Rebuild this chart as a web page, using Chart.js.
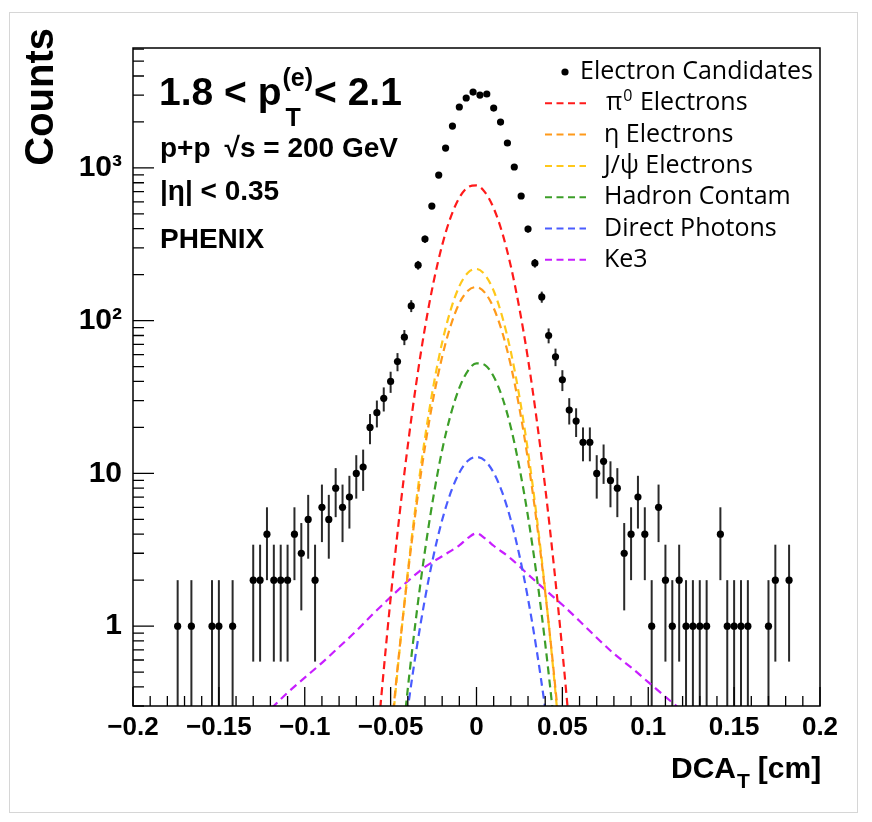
<!DOCTYPE html>
<html>
<head>
<meta charset="utf-8">
<script src="https://cdn.jsdelivr.net/npm/chart.js@4.4.0/dist/chart.umd.min.js"></script>
<style>
  body { margin: 0; background: #fff; }
  #wrap { width: 872px; height: 822px; }
</style>
</head>
<body>
<div id="wrap"><canvas id="dcaChart" width="872" height="822"></canvas></div>
<script>
// electron candidates: bin centres (cm) and counts
const dcaBins = [-0.174, -0.166, -0.154, -0.150, -0.142, -0.130, -0.126, -0.122, -0.118, -0.114,
  -0.110, -0.106, -0.102, -0.098, -0.094, -0.090, -0.086, -0.082, -0.078, -0.074,
  -0.070, -0.066, -0.062, -0.058, -0.054, -0.050, -0.046, -0.042, -0.038, -0.034,
  -0.030, -0.026, -0.022, -0.018, -0.014, -0.010, -0.006, -0.002, 0.002, 0.006,
  0.010, 0.014, 0.018, 0.022, 0.026, 0.030, 0.034, 0.038, 0.042, 0.046,
  0.050, 0.054, 0.058, 0.062, 0.066, 0.070, 0.074, 0.078, 0.082, 0.086,
  0.090, 0.094, 0.098, 0.102, 0.106, 0.110, 0.114, 0.118, 0.122, 0.126,
  0.130, 0.134, 0.142, 0.146, 0.150, 0.154, 0.158, 0.170, 0.174, 0.182];
const counts = [1, 1, 1, 1, 1, 2, 2, 4, 2, 2,
  2, 4, 3, 5, 2, 6, 5, 8, 6, 7,
  10, 11, 20, 25, 31, 40, 54, 78, 125, 231,
  342, 563, 898, 1350, 1880, 2506, 2870, 3140, 3000, 3050,
  2467, 1997, 1456, 1014, 655, 398, 238, 143, 80, 58,
  41, 26, 22, 16, 16, 10, 12, 9, 8, 3,
  4, 7, 4, 1, 6, 2, 1, 2, 1, 1,
  1, 1, 4, 1, 1, 1, 1, 1, 2, 2];

// background components
const curveX = [-0.060, -0.055, -0.050, -0.045, -0.040, -0.035, -0.030, -0.025, -0.020, -0.015, -0.010, -0.005,
  0, 0.005, 0.010, 0.015, 0.020, 0.025, 0.030, 0.035, 0.040, 0.045, 0.050, 0.055, 0.060];
const pi0Curve = [0.09, 0.39, 1.52, 5.15, 15.2, 39.5, 90, 179, 312, 477, 638, 748,
  768, 691, 545, 376, 227, 120, 56, 22.7, 8.1, 2.52, 0.69, 0.165, 0.035];
const etaCurve = [0.01, 0.043, 0.183, 0.68, 2.18, 6.1, 14.9, 31.6, 58, 93, 130, 157,
  166, 152, 121, 84, 50.8, 26.7, 12.2, 4.83, 1.67, 0.5, 0.131, 0.03, 0.006];
const jpsiCurve = [0.007, 0.036, 0.167, 0.66, 2.27, 6.7, 17.1, 37.8, 72, 118, 168, 206,
  218, 199, 157, 106, 62.5, 31.7, 13.9, 5.25, 1.71, 0.48, 0.117, 0.025, 0.004];
const hadronCurve = [0.001, 0.006, 0.027, 0.11, 0.39, 1.18, 3.12, 7.13, 14.2, 24.3, 36.3, 47,
  52.6, 51.1, 43.1, 31.5, 20, 10.9, 5.21, 2.15, 0.77, 0.239, 0.064, 0.015, 0.003];
const photonCurve = [0.0025, 0.0098, 0.034, 0.105, 0.288, 0.7, 1.51, 2.9, 4.95, 7.5, 10.1, 12.1,
  12.8, 12.1, 10.1, 7.5, 4.95, 2.9, 1.51, 0.7, 0.288, 0.105, 0.034, 0.0098, 0.0025];
const ke3X = [-0.13, -0.12, -0.11, -0.10, -0.09, -0.08, -0.07, -0.06, -0.05, -0.04, -0.03, -0.02, -0.01, -0.005,
  0, 0.005, 0.01, 0.02, 0.03, 0.04, 0.05, 0.06, 0.07, 0.08, 0.09, 0.10, 0.11, 0.12, 0.13];
const ke3Curve = [0.22, 0.285, 0.367, 0.46, 0.575, 0.73, 0.93, 1.21, 1.55, 1.97, 2.44, 2.87, 3.38, 3.78,
  4.05, 3.75, 3.36, 2.77, 2.18, 1.73, 1.38, 1.08, 0.84, 0.66, 0.537, 0.43, 0.345, 0.275, 0.21];

const xTicks = [-0.2, -0.15, -0.1, -0.05, 0, 0.05, 0.1, 0.15, 0.2];
const yTicks = [1, 10, 100, 1000];
const yTickLabels = ['1', '10', '10²', '10³'];

const pts = (xs, ys) => xs.map((x, i) => ({ x: x, y: ys[i] }));

function curve(label, color, xs, ys) {
  return {
    type: 'line', label: label, data: pts(xs, ys),
    borderColor: color, borderWidth: 2.2, borderDash: [8, 5],
    pointRadius: 0, fill: false, cubicInterpolationMode: 'monotone', order: 2
  };
}

const FONT = '"Liberation Sans", Arial, Helvetica, sans-serif';
const LEGEND_FONT = '"Open Sans", "Liberation Sans", sans-serif';

const rootStyle = {
  id: 'rootStyle',
  beforeDatasetsDraw(chart) {
    // poisson error bars under the markers
    const c = chart.ctx, a = chart.chartArea;
    const xs = chart.scales.x, ys = chart.scales.y;
    c.save();
    c.beginPath();
    c.rect(a.left, a.top, a.right - a.left, a.bottom - a.top);
    c.clip();
    c.strokeStyle = '#2a2a2a';
    c.lineWidth = 2;
    counts.forEach((n, i) => {
      const e = Math.sqrt(n);
      const px = xs.getPixelForValue(dcaBins[i]);
      const lo = ys.getPixelForValue(Math.max(n - e, ys.min));
      const hi = ys.getPixelForValue(n + e);
      c.beginPath();
      c.moveTo(px, lo);
      c.lineTo(px, hi);
      c.stroke();
    });
    c.restore();
  },
  afterDraw(chart) {
    const c = chart.ctx, a = chart.chartArea;
    const xs = chart.scales.x, ys = chart.scales.y;
    c.save();

    // outer canvas border
    c.strokeStyle = '#d6d6d6';
    c.lineWidth = 1;
    c.strokeRect(9.5, 12.5, 848, 800);

    // frame
    c.strokeStyle = '#000';
    c.lineWidth = 1.5;
    c.strokeRect(a.left, a.top, a.right - a.left, a.bottom - a.top);

    // inward ticks
    c.lineWidth = 1.3;
    c.beginPath();
    for (let k = -20; k <= 20; k++) {
      const px = xs.getPixelForValue(k / 100);
      const len = (k % 5 === 0) ? 19 : 10;
      c.moveTo(px, a.bottom);
      c.lineTo(px, a.bottom - len);
    }
    for (let d = -1; d <= 3; d++) {
      for (let m = 1; m <= 9; m++) {
        const v = m * Math.pow(10, d);
        if (v < ys.min || v > ys.max) continue;
        const py = ys.getPixelForValue(v);
        const len = m === 1 ? 21 : 11;
        c.moveTo(a.left, py);
        c.lineTo(a.left + len, py);
      }
    }
    c.stroke();

    c.fillStyle = '#000';
    c.textBaseline = 'alphabetic';

    // axis titles
    c.font = 'bold 30px ' + FONT;
    c.textAlign = 'left';
    let tx = 671;
    c.fillText('DCA', tx, 778);
    tx += c.measureText('DCA').width;
    c.font = 'bold 21px ' + FONT;
    c.fillText('T', tx + 1, 788);
    tx += c.measureText('T').width + 9;
    c.font = 'bold 30px ' + FONT;
    c.fillText('[cm]', tx, 778);

    c.save();
    c.translate(53, 28);
    c.rotate(-Math.PI / 2);
    c.font = 'bold 40px ' + FONT;
    c.textAlign = 'right';
    c.fillText('Counts', 0, 0);
    c.restore();

    // annotations
    c.textAlign = 'left';
    c.font = 'bold 39px ' + FONT;
    c.fillText('1.8 < p', 159, 105);
    let px = 159 + c.measureText('1.8 < p').width;
    c.font = 'bold 25px ' + FONT;
    c.fillText('(e)', px + 1, 86);
    c.fillText('T', px + 4, 126);
    px += c.measureText('(e)').width + 2;
    c.font = 'bold 39px ' + FONT;
    c.fillText('< 2.1', px, 105);

    c.font = 'bold 28px ' + FONT;
    c.fillText('p+p', 160, 157);
    c.fillText('\u221As = 200 GeV', 160 + c.measureText('p+p').width + 14, 157);
    c.fillText('|\u03B7| < 0.35', 160, 200);
    c.fillText('PHENIX', 160, 248);

    // legend
    const rows = chart.data.datasets.slice().sort((p, q) => p.legendRow - q.legendRow);
    rows.forEach((ds, r) => {
      const ly = 72 + r * 31.3;
      if (ds.type === 'scatter') {
        c.beginPath();
        c.arc(565, ly, 3.6, 0, Math.PI * 2);
        c.fill();
        c.font = '25px ' + LEGEND_FONT;
        c.textBaseline = 'middle';
        c.fillText(ds.label, 580, ly);
        return;
      }
      c.save();
      c.strokeStyle = ds.borderColor;
      c.lineWidth = 2;
      c.setLineDash([7, 4.5]);
      c.beginPath();
      c.moveTo(545, ly);
      c.lineTo(586, ly);
      c.stroke();
      c.restore();
      c.font = '25px ' + LEGEND_FONT;
      c.textBaseline = 'middle';
      if (ds.label.startsWith('\u03C0')) {
        c.fillText('\u03C0', 606, ly);
        let lx = 606 + c.measureText('\u03C0').width;
        c.font = '16px ' + LEGEND_FONT;
        c.fillText('0', lx + 1, ly - 7);
        lx += c.measureText('0').width + 2;
        c.font = '25px ' + LEGEND_FONT;
        c.fillText(ds.label.slice(2), lx, ly);
      } else {
        c.fillText(ds.label, 604, ly);
      }
    });
    c.restore();
  }
};

new Chart(document.getElementById('dcaChart'), {
  type: 'scatter',
  data: {
    datasets: [
      {
        type: 'scatter', label: 'Electron Candidates', data: pts(dcaBins, counts),
        pointRadius: 3.6, pointBackgroundColor: '#000', pointBorderWidth: 0, order: 1, legendRow: 0
      },
      Object.assign(curve('\u03C0\u2070 Electrons', '#ff1a1a', curveX, pi0Curve), { legendRow: 1 }),
      Object.assign(curve('\u03B7 Electrons', '#ff9a1a', curveX, etaCurve), { legendRow: 2 }),
      Object.assign(curve('J/\u03C8 Electrons', '#ffc81a', curveX, jpsiCurve), { legendRow: 3 }),
      Object.assign(curve('Hadron Contam', '#3c9e28', curveX, hadronCurve), { legendRow: 4 }),
      Object.assign(curve('Direct Photons', '#4a5cff', curveX, photonCurve), { legendRow: 5 }),
      Object.assign(curve('Ke3', '#c81eff', ke3X, ke3Curve), { legendRow: 6 })
    ]
  },
  options: {
    responsive: false,
    animation: false,
    layout: { padding: { left: 0, top: 48, right: 52, bottom: 0 } },
    plugins: { legend: { display: false }, tooltip: { enabled: false } },
    scales: {
      x: {
        type: 'linear', min: -0.2, max: 0.2,
        grid: { display: false, drawTicks: false },
        border: { display: false },
        afterBuildTicks: s => { s.ticks = xTicks.map(v => ({ value: v })); },
        afterFit: s => { s.height = 116; },
        ticks: {
          padding: 6, color: '#000', maxRotation: 0, autoSkip: false,
          font: { family: FONT, size: 26, weight: 'bold' },
          callback: v => (v < 0 ? '\u2212' + String(Math.abs(v)) : String(v))
        }
      },
      y: {
        type: 'logarithmic', min: 0.3, max: 6100,
        grid: { display: false, drawTicks: false },
        border: { display: false },
        afterBuildTicks: s => { s.ticks = yTicks.map(v => ({ value: v })); },
        afterFit: s => { s.width = 133; },
        ticks: {
          padding: 11, color: '#000', autoSkip: false,
          font: { family: FONT, size: 30, weight: 'bold' },
          callback: v => yTickLabels[yTicks.indexOf(v)]
        }
      }
    }
  },
  plugins: [rootStyle]
});
</script>
</body>
</html>
